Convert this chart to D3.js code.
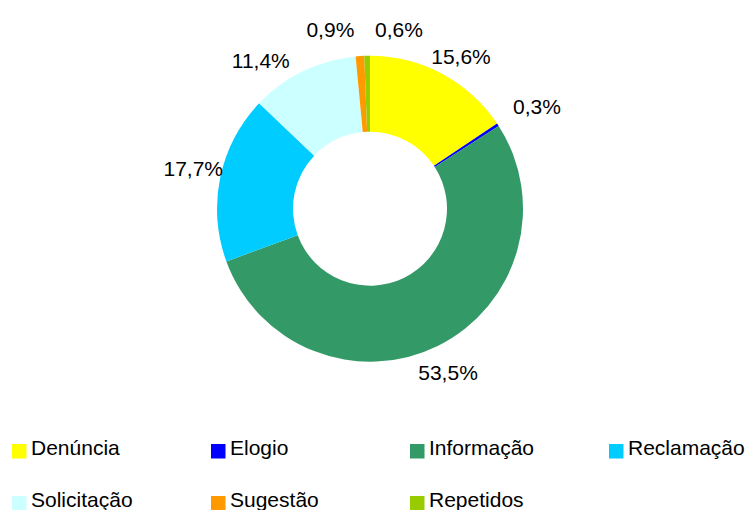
<!DOCTYPE html>
<html>
<head>
<meta charset="utf-8">
<script src="https://cdn.jsdelivr.net/npm/d3@7"></script>
<style>
	body { margin: 0; background: #fff; }
	svg { display: block; font-family: "Liberation Sans", Arial, sans-serif; }
</style>
</head>
<body>
<div id="chart"></div>
<script>
// Chart data
var categories = ["Denúncia", "Elogio", "Informação", "Reclamação", "Solicitação", "Sugestão", "Repetidos"];
var values = [15.6, 0.3, 53.5, 17.7, 11.4, 0.9, 0.6];
var labels = ["15,6%", "0,3%", "53,5%", "17,7%", "11,4%", "0,9%", "0,6%"];
var colors = ["#FFFF00", "#0000FF", "#339966", "#00CCFF", "#CCFFFF", "#FF9900", "#99CC00"];

var width = 749,
	height = 510;

var svg = d3
	.select("#chart")
	.append("svg")
	.attr("width", width)
	.attr("height", height);

// Donut
var cx = 370,
	cy = 208.7,
	outerR = 153,
	innerR = 77;

var pie = d3.pie().sort(null).value((d) => d);
var arcs = pie(values);

var arc = d3.arc().innerRadius(innerR).outerRadius(outerR);

var g = svg.append("g").attr("transform", "translate(" + cx + "," + cy + ")");

g.selectAll(".slice")
	.data(arcs)
	.enter()
	.append("path")
	.attr("class", "slice")
	.attr("d", arc)
	.attr("fill", (d, i) => colors[i]);

// Label placement: angle nudge (rad) and radius per slice, like Excel moved them
var labelNudge = [0.05, 0.03, 0.017, 0.018, -0.184, -0.152, 0.179];
var labelRadius = [177, 196, 181.4, 181.2, 183.8, 183.3, 181.3];

g.selectAll(".label")
	.data(arcs)
	.enter()
	.append("text")
	.attr("class", "label")
	.attr("x", (d, i) => {
		var a = (d.startAngle + d.endAngle) / 2 + labelNudge[i];
		return Math.sin(a) * labelRadius[i];
	})
	.attr("y", (d, i) => {
		var a = (d.startAngle + d.endAngle) / 2 + labelNudge[i];
		return -Math.cos(a) * labelRadius[i];
	})
	.attr("dy", "0.36em")
	.attr("text-anchor", "middle")
	.attr("font-size", "21px")
	.attr("fill", "#000")
	.text((d, i) => labels[i]);

// Legend
var legendX = d3.scaleLinear().domain([0, 3]).range([12, 609]);
var legend = svg
	.selectAll(".legend")
	.data(categories)
	.enter()
	.append("g")
	.attr("class", "legend")
	.attr("transform", (d, i) => "translate(" + legendX(i % 4) + "," + (444 + Math.floor(i / 4) * 52) + ")");

legend
	.append("rect")
	.attr("width", 14.5)
	.attr("height", 14.5)
	.attr("fill", (d, i) => colors[i]);

legend
	.append("text")
	.attr("x", 19)
	.attr("y", 11)
	.attr("font-size", "21px")
	.attr("fill", "#000")
	.text((d) => d);
</script>
</body>
</html>
